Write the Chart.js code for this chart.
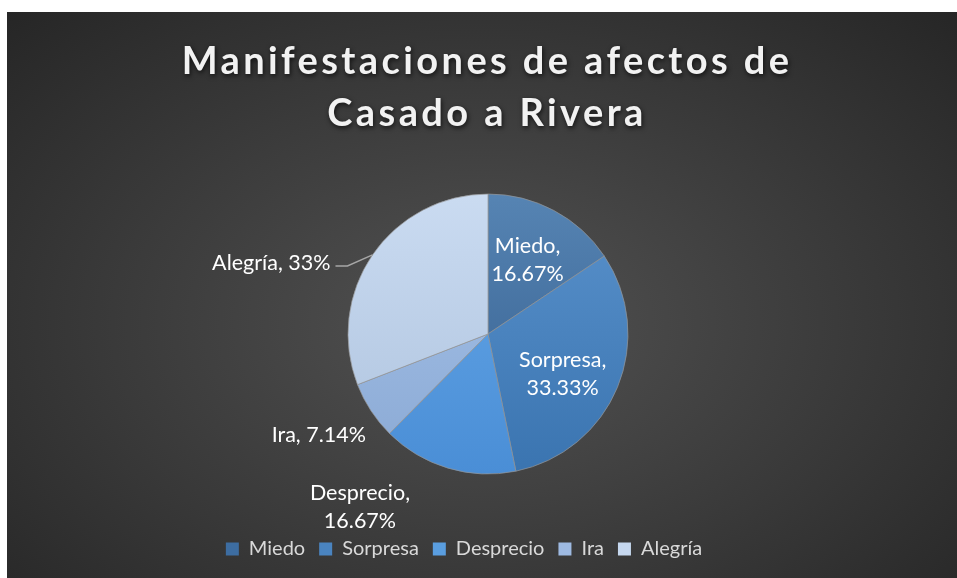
<!DOCTYPE html>
<html>
<head>
<meta charset="utf-8">
<script src="https://cdn.jsdelivr.net/npm/chart.js@4.4.1/dist/chart.umd.min.js"></script>
<style>
  html, body { margin: 0; padding: 0; background: #fff; }
  #wrap {
    position: absolute; left: 7px; top: 12px; width: 950px; height: 566px;
    background: radial-gradient(ellipse farthest-corner at 50% 55%, #525252 0%, #3a3a3a 55%, #262626 100%);
  }
</style>
</head>
<body>
<div id="wrap"><canvas id="myChart"></canvas></div>
<script>
// data
const titleLines = ["Manifestaciones de afectos de", "Casado a Rivera"];
const categories = ["Miedo", "Sorpresa", "Desprecio", "Ira", "Alegría"];
const values = [16.67, 33.33, 16.67, 7.14, 33];
const valueLabels = ["16.67%", "33.33%", "16.67%", "7.14%", "33%"];

// colours (top / bottom of gradient, legend swatch)
const topColors = ["#5684b3", "#5a92cc", "#66a8e8", "#a8c4ea", "#cadbf1"];
const bottomColors = ["#325c8c", "#3a74b0", "#4a8ed6", "#8aa9d4", "#aec3de"];
const swatchColors = ["#3d6da1", "#4a84c0", "#5a9ee0", "#9ebae2", "#c6d8ef"];

const FONT = "Lato, 'Open Sans', sans-serif";
const RADIUS = 140;

// draws the two line title with letter spacing and a shadow
const titlePlugin = {
  id: "bigTitle",
  afterDraw(chart) {
    const ctx = chart.ctx;
    const cx = (chart.chartArea.left + chart.chartArea.right) / 2;
    ctx.save();
    ctx.font = "bold 38px " + FONT;
    ctx.letterSpacing = "3.4px";
    ctx.textAlign = "center";
    ctx.textBaseline = "middle";
    ctx.fillStyle = "#f2f2f2";
    ctx.shadowColor = "rgba(0,0,0,0.7)";
    ctx.shadowBlur = 5;
    ctx.shadowOffsetX = 1;
    ctx.shadowOffsetY = 2;
    titleLines.forEach((t, i) => ctx.fillText(t, cx - 1, 50 + i * 52));
    ctx.restore();
  },
};

// legend sits a bit left of the pie in the original
const legendShift = {
  id: "legendShift",
  afterLayout(chart) {
    chart.legend.left -= 24;
    chart.legend.right -= 24;
  },
};

// data labels, placed from each arc's own geometry
const labelPlugin = {
  id: "sliceLabels",
  afterDatasetsDraw(chart, args, opts) {
    const ctx = chart.ctx;
    const arcs = chart.getDatasetMeta(0).data;
    ctx.save();
    ctx.font = "21.5px " + FONT;
    ctx.fillStyle = "#ffffff";
    ctx.textBaseline = "middle";
    arcs.forEach((arc, i) => {
      const { x, y, startAngle, endAngle, outerRadius } = arc.getProps(
        ["x", "y", "startAngle", "endAngle", "outerRadius"], true);
      const mid = (startAngle + endAngle) / 2;
      const p = opts.placement[i];
      const ex = x + Math.cos(mid) * outerRadius;
      const ey = y + Math.sin(mid) * outerRadius;
      let lx, ly;
      if (p.inside) {
        lx = x + Math.cos(mid) * outerRadius * p.r + (p.dx || 0);
        ly = y + Math.sin(mid) * outerRadius * p.r + (p.dy || 0);
      } else {
        lx = ex + p.dx;
        ly = ey + p.dy;
      }
      const lines = p.wrap
        ? [categories[i] + ",", valueLabels[i]]
        : [categories[i] + ", " + valueLabels[i]];
      ctx.textAlign = p.align || "center";
      const lh = 27.5;
      lines.forEach((t, k) => {
        ctx.fillText(t, lx, ly + (k - (lines.length - 1) / 2) * lh);
      });
      if (p.leader) {
        ctx.strokeStyle = "#a6a6a6";
        ctx.lineWidth = 1.5;
        ctx.beginPath();
        ctx.moveTo(ex, ey);
        ctx.lineTo(lx + 17, ly + 3);
        ctx.lineTo(lx + 5, ly + 3);
        ctx.stroke();
      }
    });
    ctx.restore();
  },
};

function sliceFill(c) {
  const chart = c.chart;
  const area = chart.chartArea;
  const i = c.dataIndex;
  if (!area) return swatchColors[i];
  const cy = (area.top + area.bottom) / 2;
  const g = chart.ctx.createLinearGradient(0, cy - RADIUS, 0, cy + RADIUS);
  g.addColorStop(0, topColors[i]);
  g.addColorStop(1, bottomColors[i]);
  return g;
}

const ctx = document.getElementById("myChart").getContext("2d");
const myChart = new Chart(ctx, {
  type: "pie",
  data: {
    labels: categories,
    datasets: [
      {
        data: values,
        backgroundColor: sliceFill,
        borderColor: "rgba(150,150,150,0.7)",
        borderWidth: 1,
      },
    ],
  },
  plugins: [titlePlugin, labelPlugin, legendShift],
  options: {
    responsive: true,
    maintainAspectRatio: false,
    animation: false,
    radius: RADIUS,
    layout: { padding: { left: 12, right: 0, top: 131, bottom: 9 } },
    plugins: {
      tooltip: { enabled: false },
      title: { display: false },
      legend: {
        position: "bottom",
        labels: {
          color: "#d9d9d9",
          font: { family: FONT, size: 20 },
          boxWidth: 13,
          boxHeight: 13,
          padding: 14,
          generateLabels: (chart) =>
            categories.map((name, i) => ({
              text: name,
              fillStyle: swatchColors[i],
              strokeStyle: swatchColors[i],
              lineWidth: 0,
              fontColor: "#d9d9d9",
              index: i,
            })),
        },
      },
      sliceLabels: {
        placement: [
          { inside: true, wrap: true, r: 0.6 },
          { inside: true, wrap: true, r: 0.6, dx: -3, dy: 8 },
          { inside: false, wrap: true, dx: -88, dy: 39 },
          { inside: false, wrap: false, dx: -5, dy: 24, align: "right" },
          { inside: false, wrap: false, dx: -42, dy: 8, align: "right", leader: true },
        ],
      },
    },
  },
});
</script>
</body>
</html>
